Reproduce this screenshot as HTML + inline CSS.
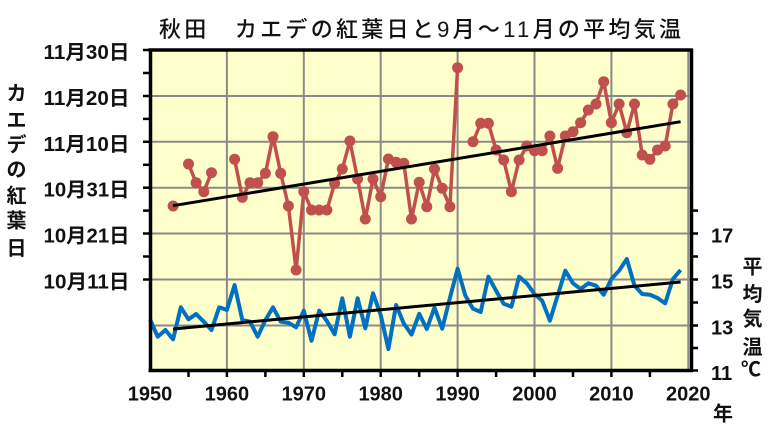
<!DOCTYPE html>
<html><head><meta charset="utf-8"><style>
html,body{margin:0;padding:0;background:#fff;}
svg{display:block;}
text{font-family:"Liberation Sans","Noto Sans CJK JP",sans-serif;fill:#111;}
.lb{font-size:20px;font-weight:bold;}
</style></head><body>
<svg width="768" height="448" viewBox="0 0 768 448" xmlns="http://www.w3.org/2000/svg">
<rect width="768" height="448" fill="#fff"/>
<!-- plot area -->
<rect x="150" y="50" width="541" height="320.5" fill="#ffffcc"/>
<g stroke="#8a8a8a" stroke-width="2">
<line x1="226.9" y1="50" x2="226.9" y2="370.5"/>
<line x1="303.8" y1="50" x2="303.8" y2="370.5"/>
<line x1="380.7" y1="50" x2="380.7" y2="370.5"/>
<line x1="457.6" y1="50" x2="457.6" y2="370.5"/>
<line x1="534.5" y1="50" x2="534.5" y2="370.5"/>
<line x1="611.4" y1="50" x2="611.4" y2="370.5"/>
<line x1="688.3" y1="50" x2="688.3" y2="370.5"/>
<line x1="150" y1="96" x2="691" y2="96"/>
<line x1="150" y1="141.8" x2="691" y2="141.8"/>
<line x1="150" y1="187.7" x2="691" y2="187.7"/>
<line x1="150" y1="233.5" x2="691" y2="233.5"/>
<line x1="150" y1="279.5" x2="691" y2="279.5"/>
<line x1="150" y1="325.5" x2="691" y2="325.5"/>
</g>
<!-- blue series -->
<polyline fill="none" stroke="#0070c0" stroke-width="4" stroke-linejoin="round" points="150,319.3 157.7,336.7 165.4,330 173.1,339.3 180.8,307.3 188.5,319.3 196.1,314 203.8,321.7 211.5,330 219.2,307.3 226.9,310 234.6,285 242.3,320 250,321.7 257.7,336.7 265.4,320 273,307.3 280.7,321.7 288.4,322.7 296.1,327.3 303.8,310.7 311.5,340.7 319.2,310.7 326.9,321 334.6,334.3 342.3,298.3 349.9,336.7 357.6,298.3 365.3,328.3 373,293.3 380.7,315 388.4,349 396.1,305 403.8,323.5 411.5,334.5 419.2,313.8 426.8,329 434.5,307.5 442.2,328.7 449.9,298 457.6,268.7 465.3,295.5 473,308.7 480.7,312 488.4,276.7 496.1,290.7 503.7,303.8 511.4,306.7 519.1,276.7 526.8,283.3 534.5,294 542.2,300.7 549.9,320.7 557.6,295.7 565.3,270.7 573,283.3 580.6,289 588.3,283.3 596,285.7 603.7,294.7 611.4,279 619.1,270.7 626.8,259 634.5,285.7 642.2,294 649.9,294.7 657.5,298 665.2,303.3 672.9,279 680.6,270"/>
<!-- red series -->
<g fill="none" stroke="#c0504d" stroke-width="3.5" stroke-linejoin="round">
<polyline points="188.5,164 196.1,182.7 203.8,191.7 211.5,172.7"/>
<polyline points="234.6,159.3 242.3,197.3 250,182.7 257.7,182.7 265.4,173.3 273,136.7 280.7,173.3 288.4,206 296.1,270 303.8,191.7 311.5,210 319.2,210 326.9,210 334.6,183.3 342.3,169 349.9,141 357.6,179 365.3,219 373,179 380.7,196.7 388.4,159 396.1,162.3 403.8,163.3 411.5,219 419.2,182.3 426.8,206.7 434.5,169 442.2,188.3 449.9,206.7 457.6,67.7"/>
<polyline points="473,141.7 480.7,123.3 488.4,123.3 496.1,150 503.7,160 511.4,191.7 519.1,160 526.8,146 534.5,150.7 542.2,150.7 549.9,136 557.6,168.3 565.3,136 573,131.7 580.6,122.7 588.3,110 596,104 603.7,81.7 611.4,122.7 619.1,104 626.8,132.7 634.5,104 642.2,155 649.9,159.3 657.5,150 665.2,146 672.9,104 680.6,95"/>
</g>
<g fill="#c0504d">
<circle cx="173.1" cy="206" r="5.5"/>
<circle cx="188.5" cy="164" r="5.5"/><circle cx="196.1" cy="182.7" r="5.5"/><circle cx="203.8" cy="191.7" r="5.5"/><circle cx="211.5" cy="172.7" r="5.5"/>
<circle cx="234.6" cy="159.3" r="5.5"/><circle cx="242.3" cy="197.3" r="5.5"/><circle cx="250" cy="182.7" r="5.5"/><circle cx="257.7" cy="182.7" r="5.5"/><circle cx="265.4" cy="173.3" r="5.5"/><circle cx="273" cy="136.7" r="5.5"/><circle cx="280.7" cy="173.3" r="5.5"/><circle cx="288.4" cy="206" r="5.5"/><circle cx="296.1" cy="270" r="5.5"/><circle cx="303.8" cy="191.7" r="5.5"/><circle cx="311.5" cy="210" r="5.5"/><circle cx="319.2" cy="210" r="5.5"/><circle cx="326.9" cy="210" r="5.5"/><circle cx="334.6" cy="183.3" r="5.5"/><circle cx="342.3" cy="169" r="5.5"/><circle cx="349.9" cy="141" r="5.5"/><circle cx="357.6" cy="179" r="5.5"/><circle cx="365.3" cy="219" r="5.5"/><circle cx="373" cy="179" r="5.5"/><circle cx="380.7" cy="196.7" r="5.5"/><circle cx="388.4" cy="159" r="5.5"/><circle cx="396.1" cy="162.3" r="5.5"/><circle cx="403.8" cy="163.3" r="5.5"/><circle cx="411.5" cy="219" r="5.5"/><circle cx="419.2" cy="182.3" r="5.5"/><circle cx="426.8" cy="206.7" r="5.5"/><circle cx="434.5" cy="169" r="5.5"/><circle cx="442.2" cy="188.3" r="5.5"/><circle cx="449.9" cy="206.7" r="5.5"/><circle cx="457.6" cy="67.7" r="5.5"/>
<circle cx="473" cy="141.7" r="5.5"/><circle cx="480.7" cy="123.3" r="5.5"/><circle cx="488.4" cy="123.3" r="5.5"/><circle cx="496.1" cy="150" r="5.5"/><circle cx="503.7" cy="160" r="5.5"/><circle cx="511.4" cy="191.7" r="5.5"/><circle cx="519.1" cy="160" r="5.5"/><circle cx="526.8" cy="146" r="5.5"/><circle cx="534.5" cy="150.7" r="5.5"/><circle cx="542.2" cy="150.7" r="5.5"/><circle cx="549.9" cy="136" r="5.5"/><circle cx="557.6" cy="168.3" r="5.5"/><circle cx="565.3" cy="136" r="5.5"/><circle cx="573" cy="131.7" r="5.5"/><circle cx="580.6" cy="122.7" r="5.5"/><circle cx="588.3" cy="110" r="5.5"/><circle cx="596" cy="104" r="5.5"/><circle cx="603.7" cy="81.7" r="5.5"/><circle cx="611.4" cy="122.7" r="5.5"/><circle cx="619.1" cy="104" r="5.5"/><circle cx="626.8" cy="132.7" r="5.5"/><circle cx="634.5" cy="104" r="5.5"/><circle cx="642.2" cy="155" r="5.5"/><circle cx="649.9" cy="159.3" r="5.5"/><circle cx="657.5" cy="150" r="5.5"/><circle cx="665.2" cy="146" r="5.5"/><circle cx="672.9" cy="104" r="5.5"/><circle cx="680.6" cy="95" r="5.5"/>
</g>
<!-- trend lines -->
<line x1="173.1" y1="205.7" x2="680.6" y2="121.7" stroke="#000" stroke-width="3"/>
<line x1="173.1" y1="329" x2="680.6" y2="282" stroke="#000" stroke-width="3"/>
<!-- frame -->
<g stroke="#000" stroke-width="3.5" fill="none">
<line x1="148.5" y1="50" x2="692.5" y2="50"/>
<line x1="150.5" y1="48.5" x2="150.5" y2="372"/>
<line x1="691.5" y1="48.5" x2="691.5" y2="372"/>
<line x1="148.5" y1="370.5" x2="693" y2="370.5"/>
</g>
<!-- ticks -->
<g stroke="#000" stroke-width="2.5">
<line x1="143" y1="50" x2="150" y2="50"/><line x1="143" y1="73" x2="150" y2="73"/><line x1="143" y1="96" x2="150" y2="96"/><line x1="143" y1="118.9" x2="150" y2="118.9"/><line x1="143" y1="141.8" x2="150" y2="141.8"/><line x1="143" y1="164.8" x2="150" y2="164.8"/><line x1="143" y1="187.7" x2="150" y2="187.7"/><line x1="143" y1="210.6" x2="150" y2="210.6"/><line x1="143" y1="233.5" x2="150" y2="233.5"/><line x1="143" y1="256.5" x2="150" y2="256.5"/><line x1="143" y1="279.5" x2="150" y2="279.5"/>
<line x1="691" y1="210.6" x2="698" y2="210.6"/><line x1="691" y1="233.5" x2="698" y2="233.5"/><line x1="691" y1="256.5" x2="698" y2="256.5"/><line x1="691" y1="279.5" x2="698" y2="279.5"/><line x1="691" y1="302.5" x2="698" y2="302.5"/><line x1="691" y1="325.5" x2="698" y2="325.5"/><line x1="691" y1="348" x2="698" y2="348"/><line x1="691" y1="370.5" x2="698" y2="370.5"/>
<line x1="188.5" y1="370" x2="188.5" y2="377"/><line x1="265.4" y1="370" x2="265.4" y2="377"/><line x1="342.3" y1="370" x2="342.3" y2="377"/><line x1="419.2" y1="370" x2="419.2" y2="377"/><line x1="496.1" y1="370" x2="496.1" y2="377"/><line x1="573" y1="370" x2="573" y2="377"/><line x1="649.9" y1="370" x2="649.9" y2="377"/>
<line x1="226.9" y1="370" x2="226.9" y2="377"/><line x1="303.8" y1="370" x2="303.8" y2="377"/><line x1="380.7" y1="370" x2="380.7" y2="377"/><line x1="457.6" y1="370" x2="457.6" y2="377"/><line x1="534.5" y1="370" x2="534.5" y2="377"/><line x1="611.4" y1="370" x2="611.4" y2="377"/>
</g>
<!-- title -->
<text x="159" y="37" font-size="22" font-weight="500" textLength="522" lengthAdjust="spacing">秋田　カエデの紅葉日と9月～11月の平均気温</text>
<!-- left labels -->
<g class="lb" text-anchor="end">
<text class="lb" x="129.5" y="59" textLength="86" lengthAdjust="spacingAndGlyphs">11月30日</text>
<text class="lb" x="129.5" y="105" textLength="86" lengthAdjust="spacingAndGlyphs">11月20日</text>
<text class="lb" x="129.5" y="150.8" textLength="86" lengthAdjust="spacingAndGlyphs">11月10日</text>
<text class="lb" x="129.5" y="196.7" textLength="86" lengthAdjust="spacingAndGlyphs">10月31日</text>
<text class="lb" x="129.5" y="242.5" textLength="86" lengthAdjust="spacingAndGlyphs">10月21日</text>
<text class="lb" x="129.5" y="288.5" textLength="86" lengthAdjust="spacingAndGlyphs">10月11日</text>
</g>
<!-- left axis title -->
<g font-size="20" font-weight="bold" text-anchor="middle">
<text x="16.5" y="100">カ</text>
<text x="16.5" y="127">エ</text>
<text x="16.5" y="151.5">デ</text>
<text x="16.5" y="176.5">の</text>
<text x="16.5" y="202.5">紅</text>
<text x="16.5" y="227.5">葉</text>
<text x="16.5" y="255">日</text>
</g>
<!-- right labels -->
<g>
<text class="lb" x="711" y="242.5">17</text>
<text class="lb" x="711" y="288.5">15</text>
<text class="lb" x="711" y="334.5">13</text>
<text class="lb" x="711" y="380">11</text>
</g>
<g font-size="20" font-weight="bold" text-anchor="middle">
<text x="752.5" y="273.5">平</text>
<text x="752.5" y="301">均</text>
<text x="752.5" y="325.5">気</text>
<text x="752.5" y="354">温</text>
<text x="751" y="376">℃</text>
<text x="723" y="420.5">年</text>
</g>
<!-- bottom labels -->
<g text-anchor="middle">
<text class="lb" x="150" y="400.5">1950</text>
<text class="lb" x="226.9" y="400.5">1960</text>
<text class="lb" x="303.8" y="400.5">1970</text>
<text class="lb" x="380.7" y="400.5">1980</text>
<text class="lb" x="457.6" y="400.5">1990</text>
<text class="lb" x="534.5" y="400.5">2000</text>
<text class="lb" x="611.4" y="400.5">2010</text>
<text class="lb" x="688.3" y="400.5">2020</text>
</g>
</svg>
</body></html>
